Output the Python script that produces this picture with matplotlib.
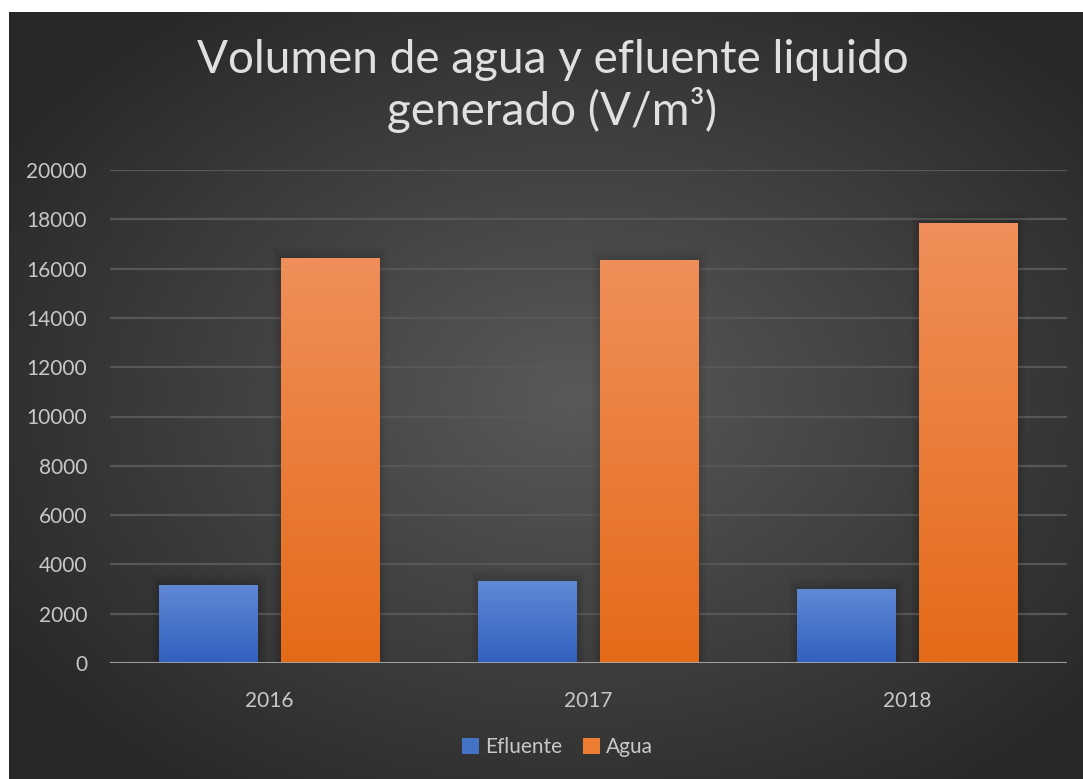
import numpy as np
import matplotlib.pyplot as plt
from matplotlib.colors import LinearSegmentedColormap
from matplotlib.patches import Rectangle

years = ["2016", "2017", "2018"]
efluente = [3150, 3330, 3000]
agua = [16430, 16350, 17850]

W, H = 1083, 779
fig = plt.figure(figsize=(W / 100, H / 100), dpi=100)
fig.patch.set_facecolor("white")

# dark radial background (white margin at top/left like the source)
bg = fig.add_axes([9 / W, 0, 1 - 9 / W, 1 - 12 / H])
bg.set_axis_off()
yy, xx = np.mgrid[0:300, 0:400]
cx, cy = 210, 150
r = np.sqrt(((xx - cx) / 400) ** 2 + ((yy - cy) / 300) ** 2) / 0.62
r = np.clip(r, 0, 1)
shade = 0.35 - 0.19 * r
bg.imshow(np.dstack([shade] * 3), aspect="auto", extent=[0, 1, 0, 1])

font = "Lato"
txt = "#e0e0e0"
tick_c = "#c8c8c8"

ax = fig.add_axes([110 / W, (H - 663) / H, (1067 - 110) / W, (663 - 170) / H])
ax.set_facecolor("none")
x = np.arange(len(years))
bw = 0.31
off = 0.19

blue_cm = LinearSegmentedColormap.from_list("b", ["#3160bf", "#6089d5"])
orange_cm = LinearSegmentedColormap.from_list("o", ["#e46a18", "#f08f5a"])

def grad_bars(xs, vals, cmap, label, color):
    bars = ax.bar(xs, vals, bw, color=color, label=label, zorder=3)
    for b in bars:
        x0, w, h = b.get_x(), b.get_width(), b.get_height()
        # soft shadow
        for k in range(1, 6):
            ax.add_patch(Rectangle((x0 - 0.005 * k, 0), w + 0.01 * k, h + 90 * k,
                                   color="black", alpha=0.025, lw=0, zorder=2))
        g = np.linspace(0, 1, 256).reshape(-1, 1)
        im = ax.imshow(g, cmap=cmap, aspect="auto", origin="lower",
                       extent=[x0, x0 + w, 0, h], zorder=4)
        im.set_clip_path(b)
    return bars

grad_bars(x - off, efluente, blue_cm, "Efluente", "#4472c4")
grad_bars(x + off, agua, orange_cm, "Agua", "#ed7d31")

ax.set_xlim(-0.5, 2.5)
ax.set_ylim(0, 20000)
ax.set_yticks(range(0, 20001, 2000))
ax.set_xticks(x)
ax.set_xticklabels(years)
ax.grid(axis="y", color="#575757", lw=1.6, zorder=1)
ax.axhline(0, color="#a6a6a6", lw=2, zorder=5)
for s in ax.spines.values():
    s.set_visible(False)
ax.tick_params(length=0, colors=tick_c, labelsize=15)
ax.tick_params(axis="y", pad=16.5)
ax.tick_params(axis="x", pad=20)
for lab in ax.get_xticklabels() + ax.get_yticklabels():
    lab.set_fontfamily(font)

fig.text(0.51, 1 - 60 / H, "Volumen de agua y efluente liquido",
         ha="center", va="center", color=txt, fontsize=33, family=font)
fig.text(0.51, 1 - 110 / H, "generado (V/m³)",
         ha="center", va="center", color=txt, fontsize=33, family=font)

leg = fig.legend(loc="center", bbox_to_anchor=(0.515, (H - 747) / H), ncol=2,
                 frameon=False, handlelength=0.8, handleheight=0.8,
                 handletextpad=0.3, columnspacing=1.0,
                 prop={"family": font, "size": 15})
for t in leg.get_texts():
    t.set_color(tick_c)

fig.savefig("out.png", dpi=100)
